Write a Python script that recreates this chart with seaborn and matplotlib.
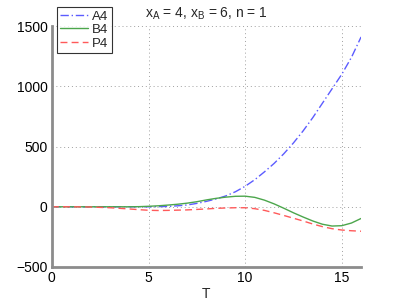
import numpy as np
import pandas as pd
import matplotlib
matplotlib.use("Agg")
import matplotlib.pyplot as plt
import seaborn as sns

# values (T in steps of 0.5)
T = [0, 0.5, 1, 1.5, 2, 2.5, 3, 3.5, 4, 4.5, 5, 5.5, 6, 6.5, 7, 7.5, 8,
     8.5, 9, 9.5, 10, 10.5, 11, 11.5, 12, 12.5, 13, 13.5, 14, 14.5, 15, 15.5, 16]
A4 = [0, 0, 0, 0, 0, 0, 0, 0, 0, 0, 0, 1, 3, 8, 15, 28, 45,
      65, 90, 125, 170, 225, 290, 360, 440, 530, 630, 740, 860, 980, 1100, 1240, 1410]
B4 = [0, 0, 0, 0, 0, 0, 0, 0, 0, 1, 4, 8, 14, 21, 30, 42, 57,
      70, 80, 87, 88, 78, 55, 24, -12, -50, -85, -118, -145, -160, -157, -135, -97]
P4 = [0, 0, 0, -1, -2, -5, -8, -13, -18, -24, -29, -31, -30, -28, -26, -22, -18,
      -13, -10, -8, -8, -16, -30, -50, -72, -95, -118, -143, -165, -182, -193, -199, -203]

x_ticks = [0, 5, 10, 15]
y_ticks = [-500, 0, 500, 1000, 1500]

sns.set_style("white")
plt.rcParams["font.family"] = ["Liberation Sans", "DejaVu Sans"]
plt.rcParams["mathtext.default"] = "regular"

fig = plt.figure(figsize=(3.99, 3.0), dpi=100)
ax = fig.add_axes([0.130, 0.110, 0.775, 0.803])

sns.lineplot(x=T, y=A4, ax=ax, color="#5c5cff", lw=1.0, label="A4")
sns.lineplot(x=T, y=B4, ax=ax, color="#4ca64c", lw=1.0, label="B4")
sns.lineplot(x=T, y=P4, ax=ax, color="#ff5a5a", lw=1.0, label="P4")
ax.lines[0].set_dashes([6, 2, 1, 2])
ax.lines[2].set_dashes([5, 3])

ax.set_xlim(0, 16)
ax.set_ylim(-500, 1500)
ax.set_xticks(x_ticks)
ax.set_yticks(y_ticks)
ax.tick_params(axis="both", direction="in", length=3, labelsize=10, colors="#555555",
               width=0.8, pad=3)
for t in ax.get_xticklabels() + ax.get_yticklabels():
    t.set_color("black")
ax.grid(True, linestyle=(0, (1, 3)), color="#a0a0a0", lw=0.7)

for s in ["top", "right"]:
    ax.spines[s].set_visible(False)
for s in ["left", "bottom"]:
    ax.spines[s].set_color("#8c8c8c")
    ax.spines[s].set_linewidth(2.0)

ax.set_xlabel("T", fontsize=10, labelpad=1)
ax.set_ylabel("")
ax.set_title("$x_A$ = 4, $x_B$ = 6, n = 1", fontsize=10, pad=6)

leg = ax.legend(loc="upper left", bbox_to_anchor=(57 / 399, 1 - 7 / 300),
                bbox_transform=fig.transFigure, fontsize=9.5, frameon=True,
                fancybox=False, borderaxespad=0, handlelength=2.1,
                labelspacing=0.1, borderpad=0.25, handletextpad=0.3)
leg.get_frame().set_edgecolor("black")
leg.get_frame().set_linewidth(0.8)

fig.savefig("out.png", dpi=100)
